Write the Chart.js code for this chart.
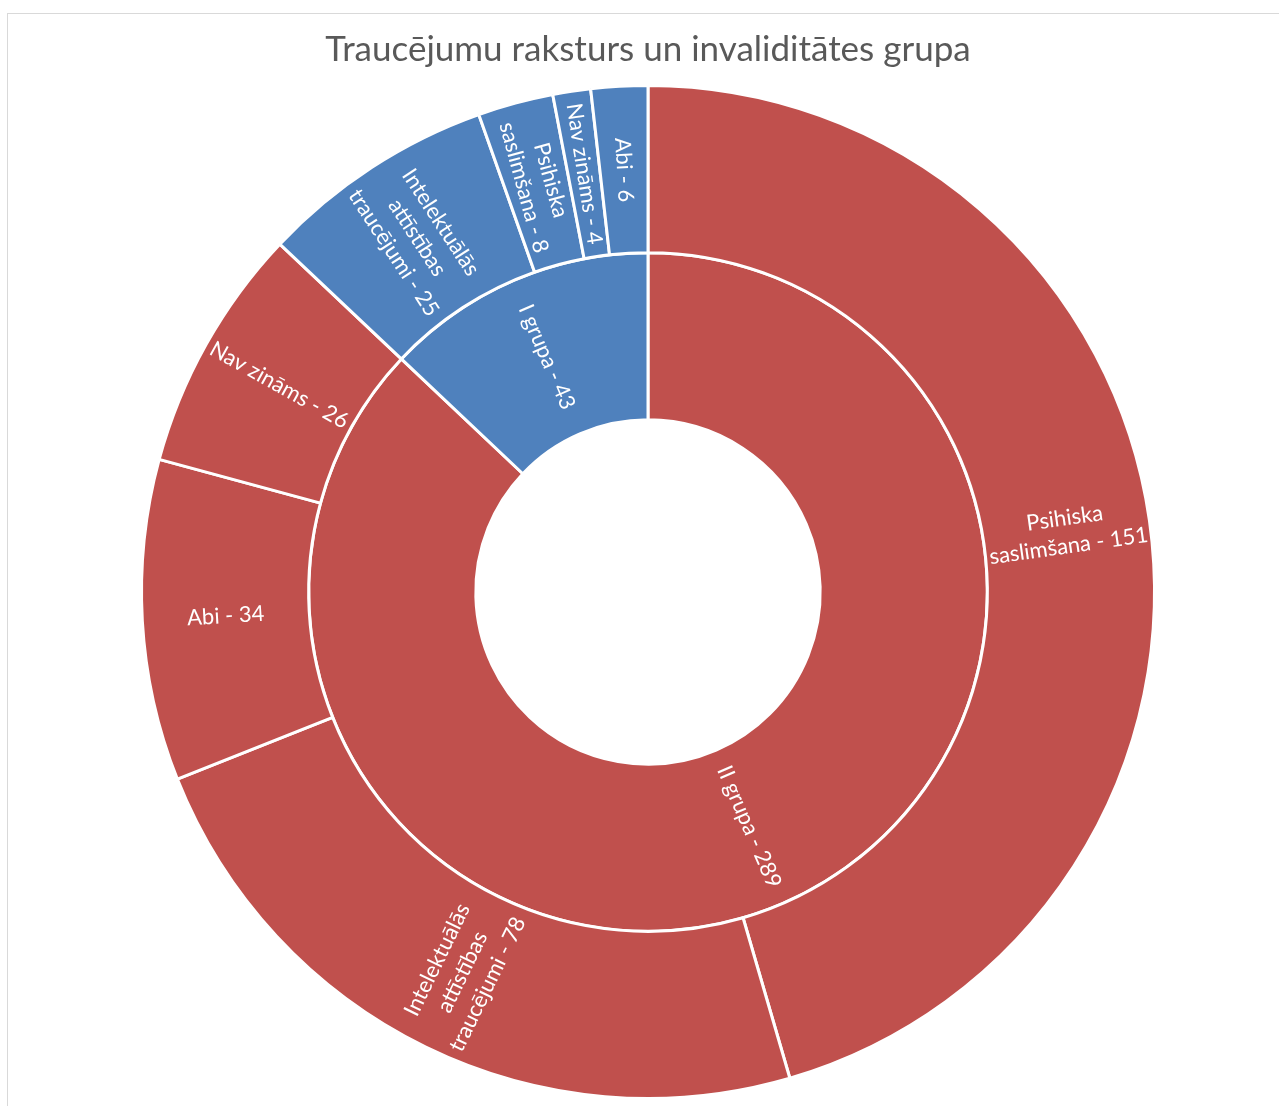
<!DOCTYPE html>
<html>
<head>
<meta charset="utf-8">
<script src="https://cdn.jsdelivr.net/npm/chart.js@4"></script>
<style>
    html, body { margin: 0; padding: 0; background: #fff; overflow: hidden; }
    #frame { position: absolute; left: 7px; top: 13px; width: 1320px; height: 1200px; border: 1px solid #d9d9d9; }
    #wrap { position: absolute; left: 0; top: 0; width: 1279px; height: 1106px; }
</style>
</head>
<body>
<div id="frame"></div>
<div id="wrap"><canvas id="sunburst" width="1279" height="1106"></canvas></div>
<script>
// inner ring: invaliditātes grupa
const groups = ['II grupa', 'I grupa'];
const groupValues = [289, 43];

// outer ring: traucējumu raksturs (per grupa, clockwise from top)
const kinds = [
    'Psihiska saslimšana', 'Intelektuālās attīstības traucējumi', 'Abi', 'Nav zināms',
    'Intelektuālās attīstības traucējumi', 'Psihiska saslimšana', 'Nav zināms', 'Abi'
];
const kindValues = [151, 78, 34, 26, 25, 8, 4, 6];
const kindGroup = [0, 0, 0, 0, 1, 1, 1, 1];

const groupColors = ['#C0504D', '#4F81BD'];

function wrapText(ctx, text, maxW) {
    const words = text.split(' ');
    const lines = [];
    let cur = '';
    words.forEach(w => {
        const t = cur ? cur + ' ' + w : w;
        if (cur && ctx.measureText(t).width > maxW) {
            lines.push(cur);
            cur = w;
        } else {
            cur = t;
        }
    });
    if (cur) lines.push(cur);
    return lines;
}

const ringLabels = {
    id: 'ringLabels',
    afterDatasetsDraw(chart) {
        const ctx = chart.ctx;
        ctx.save();
        ctx.font = '22px Lato';
        ctx.fillStyle = '#ffffff';
        ctx.textAlign = 'center';
        ctx.textBaseline = 'middle';
        const lh = 28;
        chart.data.datasets.forEach((ds, di) => {
            chart.getDatasetMeta(di).data.forEach((arc, i) => {
                const p = arc.getProps(['x', 'y', 'startAngle', 'endAngle', 'innerRadius', 'outerRadius'], true);
                const a = (p.startAngle + p.endAngle) / 2;
                const r = (p.innerRadius + p.outerRadius) / 2;
                let rot = a;
                if (Math.cos(a) < 0) rot += Math.PI;
                const lines = wrapText(ctx, ds.names[i] + ' - ' + ds.data[i], p.outerRadius - p.innerRadius - 4);
                ctx.save();
                ctx.translate(p.x + Math.cos(a) * r, p.y + Math.sin(a) * r);
                ctx.rotate(rot);
                lines.forEach((ln, k) => {
                    ctx.fillText(ln, 0, (k - (lines.length - 1) / 2) * lh);
                });
                ctx.restore();
            });
        });
        ctx.restore();
    }
};

new Chart(document.getElementById('sunburst'), {
    type: 'doughnut',
    data: {
        labels: kinds,
        datasets: [
            {
                data: kindValues,
                names: kinds,
                backgroundColor: kindGroup.map(g => groupColors[g]),
                borderColor: '#ffffff',
                borderWidth: 3
            },
            {
                data: groupValues,
                names: groups,
                backgroundColor: groupColors,
                borderColor: '#ffffff',
                borderWidth: 3
            }
        ]
    },
    options: {
        responsive: false,
        animation: false,
        cutout: '34%',
        layout: { padding: { left: 17, right: 0, top: 0, bottom: 6 } },
        plugins: {
            legend: { display: false },
            tooltip: { enabled: false },
            title: {
                display: true,
                text: 'Traucējumu raksturs un invaliditātes grupa',
                color: '#595959',
                font: { family: 'Lato', size: 35, weight: 'normal' },
                padding: { top: 29, bottom: 13 }
            }
        }
    },
    plugins: [ringLabels]
});
</script>
</body>
</html>
